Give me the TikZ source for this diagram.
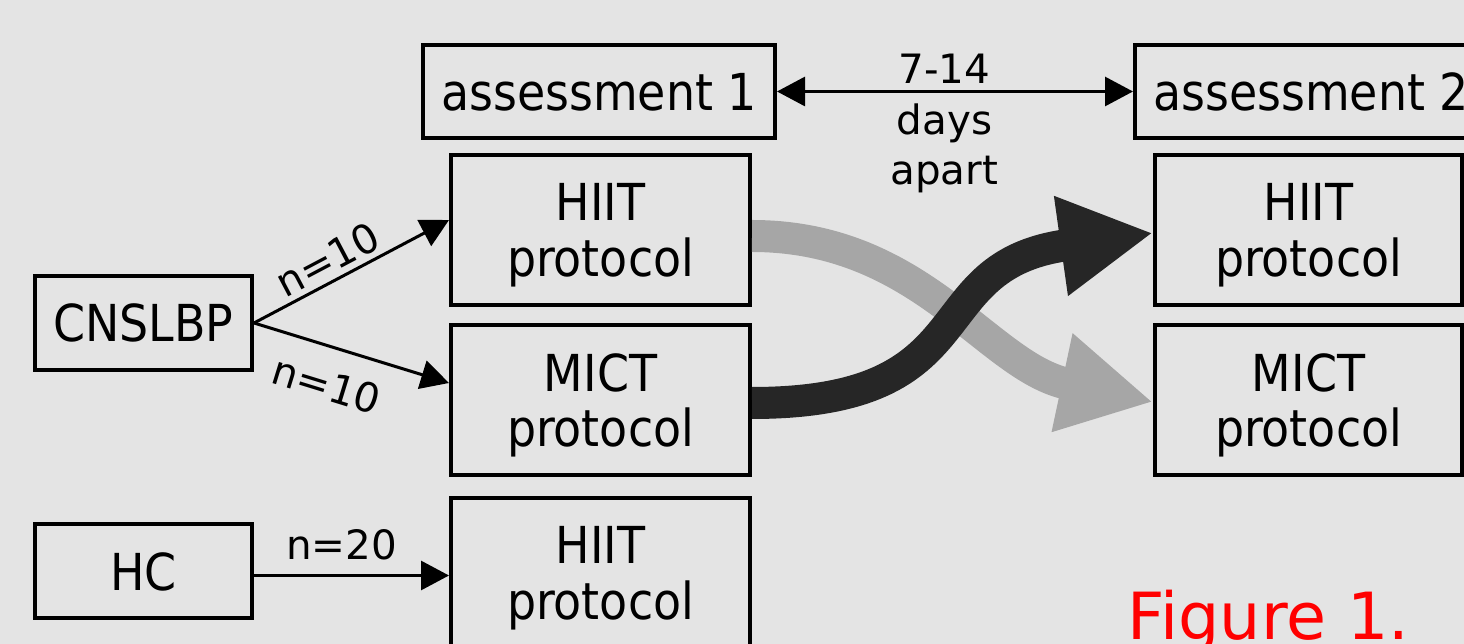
\documentclass[tikz,border=0pt]{standalone}
\usepackage{fontspec}
\setmainfont{DejaVu Sans Condensed}
\newfontfamily\widefont{DejaVu Sans}
\usetikzlibrary{arrows.meta}
\definecolor{panel}{RGB}{228,228,228}
\definecolor{swapdark}{RGB}{38,38,38}
\definecolor{swaplight}{RGB}{166,166,166}

\begin{document}
\begin{tikzpicture}[
        font=\fontsize{29}{31.5}\selectfont,
        >={Triangle[length=0.56cm, width=0.58cm]},
        box/.style={draw, line width=0.08cm, align=center, inner sep=0pt, text depth=0pt},
        link/.style={line width=0.06cm},
        count/.style={font=\widefont\fontsize{23}{28.5}\selectfont},
        crossarrow/.style={line width=0.64cm, -{Triangle[length=1.86cm, width=1.88cm]}}
    ]
                \fill[panel] (0, 0) rectangle (29.28, 12.88);
                \useasboundingbox (0, 0) rectangle (29.28, 12.88);
                \node[box, minimum width=7.04cm, minimum height=1.86cm] (assess1) at (11.98, 11.05) {assessment 1};
                \node[box, minimum width=7.04cm, minimum height=1.86cm] (assess2) at (26.22, 11.05) {assessment 2};
                \node[box, minimum width=5.98cm, minimum height=3cm] (hiit1) at (12.01, 8.28) {HIIT\\protocol};
                \node[box, minimum width=5.98cm, minimum height=3cm] (mict1) at (12.01, 4.88) {MICT\\protocol};
                \node[box, minimum width=5.98cm, minimum height=3cm] (hiit3) at (12.01, 1.42) {HIIT\\protocol};
                \node[box, minimum width=6.14cm, minimum height=3cm] (hiit2) at (26.17, 8.28) {HIIT\\protocol};
                \node[box, minimum width=6.14cm, minimum height=3cm] (mict2) at (26.17, 4.88) {MICT\\protocol};
                \node[box, minimum width=4.34cm, minimum height=1.88cm] (cnslbp) at (2.87, 6.42) {CNSLBP};
                \node[box, minimum width=4.34cm, minimum height=1.88cm] (hc) at (2.87, 1.45) {HC};
                \draw[link, <->] (assess1.east) -- (assess2.west)
                    node[count, pos=0.47, above, inner sep=3.5pt] (gap) {7-14}
                    node[count, pos=0.47, below, align=center, inner sep=6pt] (apart) {days\\apart};
                \draw[link, ->] (cnslbp.east) -- ([yshift=0.2cm]hiit1.west)
                    node[count, pos=0.43, sloped, above, inner sep=3pt] (nhiit) {n=10};
                \draw[link, ->] (cnslbp.east) -- ([yshift=0.34cm]mict1.west)
                    node[count, pos=0.43, sloped, below, inner sep=12pt] (nmict) {n=10};
                \draw[link, ->] ([yshift=-0.08cm]hc.east) -- ([yshift=-0.08cm]hc.east -| hiit3.west)
                    node[count, pos=0.45, above, inner sep=8pt] (nhc) {n=20};
                \draw[crossarrow, swaplight] ([yshift=-0.12cm]hiit1.east) to[out=0, in=168] ([yshift=-0.04cm]mict2.west);
                \draw[crossarrow, swapdark] ([yshift=-0.06cm]mict1.east) to[out=0, in=188, looseness=1.4] ([yshift=-0.06cm]hiit2.west);
                \node[anchor=base west, inner sep=0pt, text=red, font=\widefont\fontsize{37}{37}\selectfont] (caption) at (22.55, 0.08) {Figure 1.};
\end{tikzpicture}
\end{document}
